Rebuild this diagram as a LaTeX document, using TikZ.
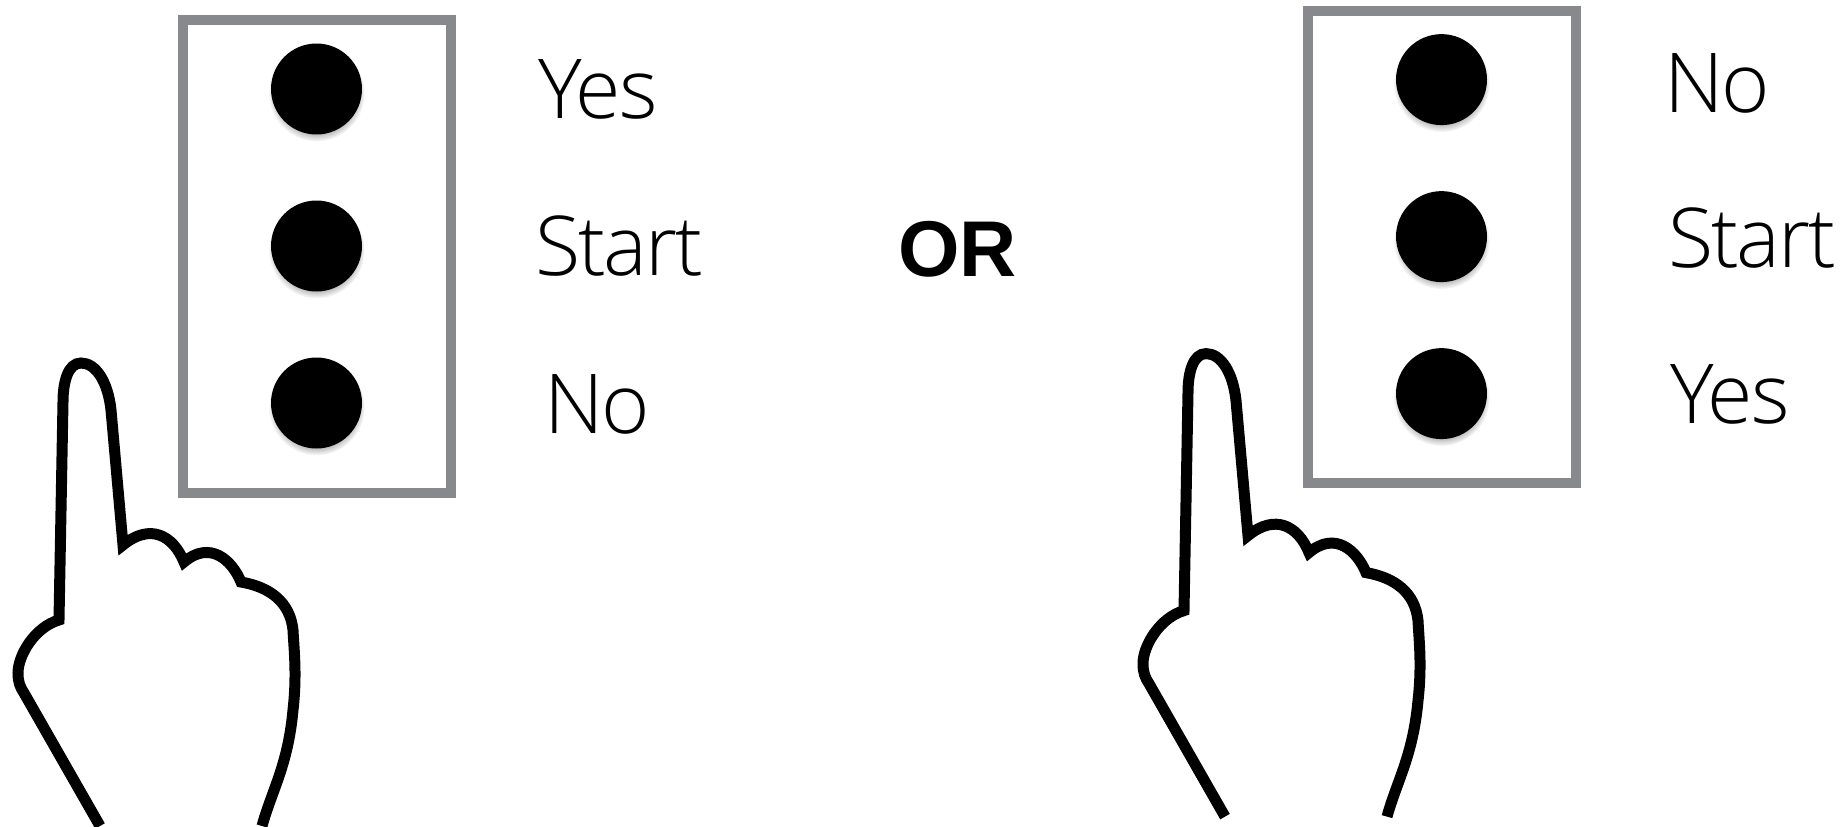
\documentclass[tikz,border=0pt]{standalone}
\usepackage{fontspec}
\setmainfont{Open Sans Light}[LetterSpace=-2.5]
\newfontfamily\orfont{Liberation Sans}
\usetikzlibrary{shadows,fadings}
\definecolor{panelgray}{HTML}{87898C}
\tikzset{
  panel/.style={draw=panelgray, line width=0.2cm, minimum width=5.36cm, minimum height=9.45cm, inner sep=0pt},
  dot/.style={circle, fill=black, minimum size=1.82cm, inner sep=0pt,
    circular drop shadow={shadow xshift=0cm, shadow yshift=-0.08cm, shadow scale=1.06, opacity=0.5}},
  choice/.style={anchor=base west, inner sep=0pt, font=\fontsize{47}{50}\selectfont},
  hand/.pic={
    \draw[line width=0.22cm, line join=miter, miter limit=3]
      (262,486) .. controls (272,450) and (288,425) .. (293,370)
      .. controls (297,335) and (294,310) .. (293,290)
      .. controls (290,262) and (270,247) .. (241,242)
      .. controls (232,220) and (210,200) .. (184,222)
      .. controls (173,195) and (150,183) .. (123,205)
      -- (111,70)
      .. controls (108,42) and (96,23) .. (81,23)
      .. controls (68,23) and (63,42) .. (63,62)
      -- (59,280)
      .. controls (35,287) and (18,315) .. (18,333)
      .. controls (18,342) and (20,347) .. (24,353)
      -- (100,486);
  }
}
\begin{document}
\begin{tikzpicture}[x=0.02cm,y=-0.02cm]
\useasboundingbox (0,0) rectangle (1845,826);
\clip (0,0) rectangle (1845,826);
% Both panels, the second one shifted right
\foreach \side/\dx/\dy in {L/0/0,R/1125/-9.4} {
  \begin{scope}[shift={(\dx,\dy)}]
    \node[panel] (box\side) at (316.8,256.4) {};
    % Three buttons
    \foreach \n/\y in {1/89,2/246,3/403} {
      \node[dot] (dot\side\n) at (316.5,\y) {};
    }
    \pic at (0,340) {hand};
  \end{scope}
}
% Left labels
\node[choice] (yesL) at (538,118) {Yes};
\node[choice] (startL) at (535,275) {Start};
\node[choice] (noL) at (544,433) {No};
% Middle
\node[anchor=base west, inner sep=0pt, font=\orfont\bfseries\fontsize{45}{50}\selectfont] (orword) at (898,276) {OR};
% Right labels
\node[choice] (noR) at (1664,112) {No};
\node[choice] (startR) at (1668,267) {Start};
\node[choice] (yesR) at (1670,423) {Yes};
\end{tikzpicture}
\end{document}
